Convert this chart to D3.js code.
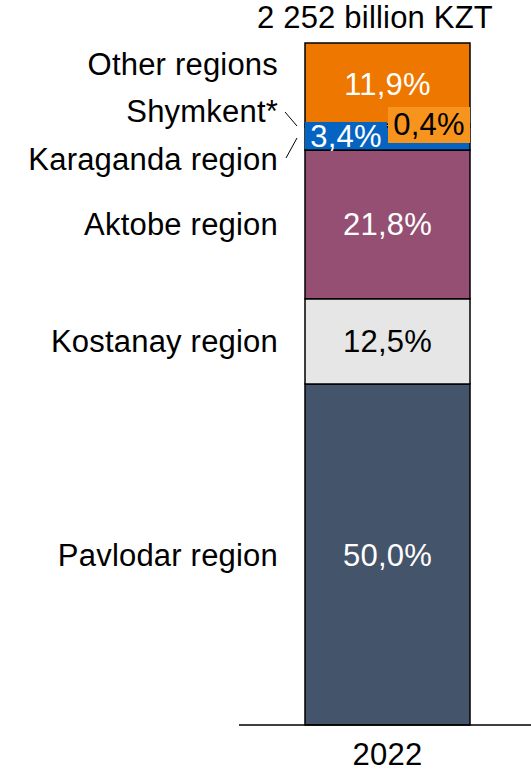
<!DOCTYPE html>
<html>
<head>
<meta charset="utf-8">
<script src="https://cdn.jsdelivr.net/npm/d3@7"></script>
<style>
  body { margin: 0; background: #fff; }
  text { font-family: "Liberation Sans", Arial, sans-serif; letter-spacing: 0.2px; }
</style>
</head>
<body>
<div id="chart"></div>
<script>
// data, bottom to top
var years = ["2022"];
var regions = ["Pavlodar region", "Kostanay region", "Aktobe region", "Karaganda region", "Shymkent*", "Other regions"];
var shares = [50.0, 12.5, 21.8, 3.4, 0.4, 11.9];
var shareLabels = ["50,0%", "12,5%", "21,8%", "3,4%", "0,4%", "11,9%"];
var total = "2 252 billion KZT";

var colors = ["#44546a", "#e7e6e6", "#954f72", "#0563c1", "#f7941e", "#ee7700"];
var textColors = ["#fff", "#000", "#fff", "#fff", "#000", "#fff"];

var W = 531, H = 771;
var svg = d3.select("#chart").append("svg").attr("width", W).attr("height", H);

var x = d3.scaleBand().domain(years).range([305, 470]);
var y = d3.scaleLinear().domain([0, 100]).range([725, 43]);

// stack
var stacked = [];
var acc = 0;
shares.forEach(function (v, i) {
  stacked.push({ name: regions[i], v: v, y0: acc, y1: acc + v, i: i });
  acc += v;
});

svg.selectAll("rect.seg")
  .data(stacked)
  .enter().append("rect")
  .attr("class", "seg")
  .attr("x", x("2022"))
  .attr("width", x.bandwidth())
  .attr("y", function (d) { return y(d.y1); })
  .attr("height", function (d) { return y(d.y0) - y(d.y1); })
  .attr("fill", function (d) { return colors[d.i]; })
  .attr("stroke", "#000")
  .attr("stroke-width", 1.5);

// baseline
svg.append("line")
  .attr("x1", 239).attr("x2", 531)
  .attr("y1", y(0)).attr("y2", y(0))
  .attr("stroke", "#000").attr("stroke-width", 1.5);

var fs = 31;
var cx = x("2022") + x.bandwidth() / 2;

// big segment labels (inside)
var big = stacked.filter(function (d) { return d.v > 5; });
svg.selectAll("text.val")
  .data(big)
  .enter().append("text")
  .attr("class", "val")
  .attr("x", cx)
  .attr("y", function (d) { return (y(d.y0) + y(d.y1)) / 2 + 11; })
  .attr("text-anchor", "middle")
  .attr("font-size", fs)
  .attr("fill", function (d) { return textColors[d.i]; })
  .text(function (d) { return shareLabels[d.i]; });

// small segment labels, boxed
var kar = stacked[3];
svg.append("rect")
  .attr("x", x("2022")).attr("y", 122)
  .attr("width", 82).attr("height", y(kar.y0) - 1 - 122)
  .attr("fill", colors[3]);
svg.append("text")
  .attr("x", x("2022") + 41).attr("y", 147)
  .attr("text-anchor", "middle").attr("font-size", fs)
  .attr("fill", "#fff").text(shareLabels[3]);

svg.append("rect")
  .attr("x", x("2022") + 83).attr("y", 107)
  .attr("width", 82).attr("height", 36)
  .attr("fill", colors[4]);
svg.append("text")
  .attr("x", x("2022") + 124).attr("y", 135)
  .attr("text-anchor", "middle").attr("font-size", fs)
  .attr("fill", "#000").text(shareLabels[4]);

// category labels on the left
var labelY = [null, null, null, 170, 122, 75];
svg.selectAll("text.cat")
  .data(stacked)
  .enter().append("text")
  .attr("class", "cat")
  .attr("x", 278)
  .attr("y", function (d) {
    return labelY[d.i] != null ? labelY[d.i] : (y(d.y0) + y(d.y1)) / 2 + 11;
  })
  .attr("text-anchor", "end")
  .attr("font-size", fs)
  .attr("fill", "#000")
  .text(function (d) { return d.name; });

// leader lines
svg.append("line").attr("x1", 285).attr("y1", 112).attr("x2", 297).attr("y2", 126)
  .attr("stroke", "#000").attr("stroke-width", 1);
svg.append("line").attr("x1", 297).attr("y1", 138).attr("x2", 286).attr("y2", 158)
  .attr("stroke", "#000").attr("stroke-width", 1);

// total on top
svg.append("text")
  .attr("x", 493).attr("y", 28)
  .attr("text-anchor", "end").attr("font-size", fs)
  .text(total);

// year
svg.append("text")
  .attr("x", cx).attr("y", 765)
  .attr("text-anchor", "middle").attr("font-size", fs)
  .text(years[0]);
</script>
</body>
</html>
